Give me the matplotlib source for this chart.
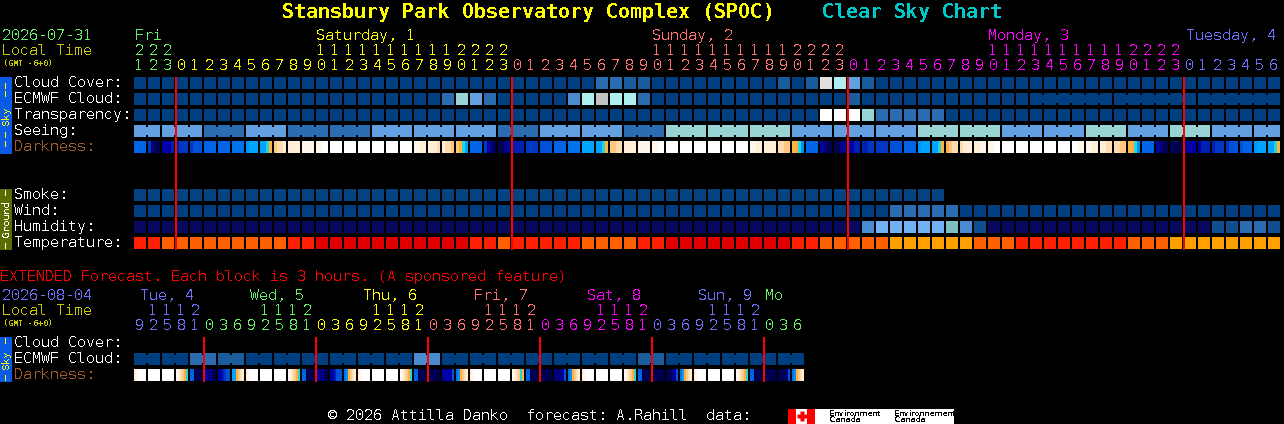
import matplotlib
matplotlib.use("Agg")
import matplotlib.pyplot as plt
from matplotlib.patches import Rectangle

plt.rcParams['font.family'] = ['DejaVu Sans Mono']
plt.rcParams['text.antialiased'] = False
plt.rcParams['text.hinting'] = 'native'
plt.rcParams['text.hinting_factor'] = 1

# colours
GREEN = '#66ee66'
YELLOW = '#ffff00'
PINK = '#ff7070'
MAGENTA = '#ff00ff'
BLUE = '#7070ff'
OLIVE = '#c8c800'
BROWN = '#a05a28'
RED = '#ff0000'
CLOUD_COLORS = ['#003f7f', '#1a5c9c', '#2b6cb0', '#4a8ad0', '#63a0e2', '#71b2f4',
                '#99d4d4', '#aeeeee', '#c2c2c2', '#e0e0e0', '#ffffff']
SMOKE_COLORS = ['#044282']
HUMID_COLORS = ['#08085e', '#0f4f90', '#2b6cb0', '#4a8ad0', '#71b2f4', '#80bfc0']
TEMP_COLORS = ['#e00000', '#ff2000', '#ff6000', '#ffa000']
DARK_COLORS = dict(zip('0123456789ABCDEFG',
                       ['#000050', '#000080', '#0000a8', '#0020b4', '#0038c4', '#0050d8',
                        '#0064e4', '#0074ec', '#0090f8', '#00a4ff', '#20d8d8', '#ffb040',
                        '#ffc880', '#ffdcb0', '#ffeed8', '#fff6ec', '#ffffff']))

# hourly forecast
hours = [21, 22, 23] + list(range(24)) * 3 + list(range(7))
hour_colors = [GREEN] * 3 + [YELLOW] * 24 + [PINK] * 24 + [MAGENTA] * 24 + [BLUE] * 7
midnights = [3, 27, 51, 75]

cloud_cover = [0] * 33 + [2, 2, 1, 1] + [0] * 9 + [1, 0, 1, 9, 7, 4, 1] + [0] * 29
ecmwf_cloud = [0] * 22 + [2, 6, 4, 2] + [0] * 5 + [3, 7, 8, 7, 7, 2] + [0] * 14 + [1] + [0] * 30
transparency = [0] * 49 + [10, 10, 10, 6] + [2] * 5 + [0] * 24
seeing = [4, 4, 4, 4, 4, 2, 2, 2, 4, 4, 4, 2, 2, 2, 2, 2, 2, 4, 4, 4, 4, 4, 4, 4, 4, 4, 2, 2, 2, 4, 4, 4,
          4, 4, 4, 2, 2, 2, 6, 6, 6, 6, 6, 6, 6, 6, 6, 4, 4, 4, 4, 4, 4, 4, 4, 4, 6, 6, 6, 6, 6, 6,
          4, 4, 4, 4, 4, 4, 6, 6, 6, 4, 4, 4, 6, 6, 6, 4, 4, 4, 4, 4]
darkness = ['6666', '4100', '2223', '3444', '4555', '6666', '6666', '7777', '8999', '99AB', 'CDDE',
            'EEEE', 'FFFF', 'FFGG', 'GGGG', 'GGGG', 'GGGG', 'GGGG', 'GGGG', 'GGGG', 'FFEE',
            'EEED', 'EDDC', 'CBA9', '6666', '4210', '0012', '3333', '4444', '5555', '6666', '7777',
            '9999', '99AB', 'CCDD', 'EEEE', 'FFFF', 'FFGG', 'GGGG', 'GGGG', 'GGGG', 'GGGG', 'GGGG',
            'GGGG', 'FFEE', 'EEEE', 'DDCC', 'BBA8', '6666', '2100', '0012', '2233', '3344', '4444',
            '5555', '6666', '8999', '99AB', 'BCDD', 'DEEE', 'EEFF', 'FFGG', 'GGGG', 'GGGG', 'GGGG',
            'GGGG', 'GGGG', 'GGFF', 'FFEE', 'EEDD', 'DDCC', 'BBA8', '6666', '2100', '0000', '1222',
            '2333', '3444', '4555', '5666', '8999', '99AB']
smoke = [0] * 58
wind = [0] * 54 + [2] * 5 + [0] * 23
humidity = [0] * 52 + [3, 4, 4, 4, 4, 4, 5, 3, 1] + [0] * 16 + [1, 1, 2, 2, 1]
temperature = [1, 1] + [2] * 9 + [1, 1] + [0] * 11 + [1, 1, 2] + [1] * 5 + [2] * 4 + [1, 1] + [0] * 9 + \
    [1, 1] + [2] * 5 + [3] * 6 + [2] * 3 + [1] * 8 + [2] * 3 + [3] * 8

# 3 hourly extended forecast
ext_hours = [9, 12, 15, 18, 21] + [0, 3, 6, 9, 12, 15, 18, 21] * 5 + [0, 3, 6]
ext_hour_colors = [BLUE] * 5 + [GREEN] * 8 + [YELLOW] * 8 + [PINK] * 8 + [MAGENTA] * 8 + [BLUE] * 8 + [GREEN] * 3
ext_midnights = [5, 13, 21, 29, 37, 45]
ext_ecmwf = [0] * 4 + [2, 2, 1, 1] + [0] * 12 + [3, 3] + [0] * 14 + [1, 1] + [0] * 10
ext_darkness = ['EFGGGG', 'GGGGGG', 'GGGGGG', 'FEDCBA', '660000',
                '221100', '223455', '99BCDE', 'EFGGGG', 'GGGGGG', 'GGGGGG', 'FEDCBA', '660000',
                '221100', '223555', '78BCDE', 'EFGGGG', 'GGGGGG', 'GGGGGG', 'FEDCBA', '660000',
                '000000', '222225', '78BCDE', 'EFGGGG', 'GGGGGG', 'GGGGGG', 'FEDCAB', '660000',
                '000000', '111125', '78BCDE', 'EFGGGG', 'GGGGGG', 'GGGGGG', 'FEDCBA', '660000',
                '000000', '000125', '79BCDE', 'EFGGGG', 'GGGGGG', 'GGGGGG', 'FEDCBA', '660000',
                '000000', '000015', '78BCDE']

X0 = 134
STEP = 14
CELL = 12

fig = plt.figure(figsize=(12.84, 4.24), dpi=100, facecolor='black')
ax = fig.add_axes([0, 0, 1, 1])
ax.set_xlim(0, 1284)
ax.set_ylim(424, 0)
ax.axis('off')


def box(x, y, w, h, color, z=2):
    ax.add_patch(Rectangle((x, y), w, h, facecolor=color, edgecolor='none', antialiased=False, zorder=z))


def label(x, y, s, color='white', size=10.8, **kw):
    kw.setdefault('ha', 'left')
    ax.text(x, y + 1, s, color=color, fontsize=size, va='center', **kw)


def row(y, values, colors, joined=None):
    # joined(i) says cell i runs on into cell i+1, the notch between blocks
    for i, v in enumerate(values):
        x = X0 + i * STEP
        box(x, y, CELL, CELL, colors[v])
        if joined and i + 1 < len(values) and joined(i):
            box(x + CELL, y + 2, STEP - CELL, CELL - 4, colors[v])


def dark_row(y, values):
    for i, s in enumerate(values):
        w = CELL / len(s)
        for k, c in enumerate(s):
            box(X0 + i * STEP + k * w, y, w + 0.01, CELL, DARK_COLORS[c])


def hour_labels(y, hrs, cols):
    for i, (h, c) in enumerate(zip(hrs, cols)):
        x = X0 + i * STEP + 5
        if h >= 10:
            label(x, y, str(h // 10), c, ha='center')
        label(x, y + 15, str(h % 10), c, ha='center')


def strip(y, h, color, text, text_color, text_y, dashes):
    box(0, y, 12, h, color)
    label(6, text_y, text, text_color, size=7.2, rotation=90, ha='center')
    for d in dashes:
        box(5, d, 1, 6, text_color, z=3)


# title
label(282, 11, 'Stansbury Park Observatory Complex (SPOC)', YELLOW, size=14.4, fontweight='bold')
label(822, 11, 'Clear Sky Chart', '#00c8c8', size=14.4, fontweight='bold')

# top header
label(2, 35, '2026-07-31', GREEN)
label(2, 50, 'Local Time', OLIVE)
label(3, 62, '(GMT -6+0)', OLIVE, size=5.8, fontweight='bold')
for x, s, c in [(135, 'Fri', GREEN), (316, 'Saturday, 1', YELLOW), (652, 'Sunday, 2', PINK),
                (988, 'Monday, 3', MAGENTA), (1186, 'Tuesday, 4', BLUE)]:
    label(x, 35, s, c)
hour_labels(50, hours, hour_colors)

# sky rows
strip(77, 77, '#0a5ae6', 'Sky', YELLOW, 115, [83, 91, 132, 141])
for y, s, c in [(82, 'Cloud Cover:', 'white'), (98, 'ECMWF Cloud:', 'white'), (114, 'Transparency:', 'white'),
                (130, 'Seeing:', 'white'), (146, 'Darkness:', BROWN)]:
    label(14, y, s, c)
row(77, cloud_cover, CLOUD_COLORS)
row(93, ecmwf_cloud, CLOUD_COLORS, lambda i: i >= 64 and (i - 64) % 6 != 5)
row(109, transparency, CLOUD_COLORS)
row(125, seeing, CLOUD_COLORS, lambda i: (i - 2) % 3 != 2)
dark_row(141, darkness)

# ground rows
strip(189, 61, '#5a6e00', 'Ground', 'white', 218, [190, 243])
for y, s in [(194, 'Smoke:'), (210, 'Wind:'), (226, 'Humidity:'), (242, 'Temperature:')]:
    label(14, y, s)
row(189, smoke, SMOKE_COLORS)
row(205, wind, CLOUD_COLORS)
row(221, humidity, HUMID_COLORS)
row(237, temperature, TEMP_COLORS)

for i in midnights:
    box(X0 + i * STEP - 1, 77, 2, 173, RED, z=3)

# extended part
label(0, 276, 'EXTENDED Forecast. Each block is 3 hours. (A sponsored feature)', RED)
label(2, 295, '2026-08-04', BLUE)
label(2, 310, 'Local Time', OLIVE)
label(3, 322, '(GMT -6+0)', OLIVE, size=5.8, fontweight='bold')
for x, s, c in [(140, 'Tue, 4', BLUE), (250, 'Wed, 5', GREEN), (363, 'Thu, 6', YELLOW), (474, 'Fri, 7', PINK),
                (587, 'Sat, 8', MAGENTA), (698, 'Sun, 9', BLUE), (765, 'Mo', GREEN)]:
    label(x, 295, s, c)
hour_labels(310, ext_hours, ext_hour_colors)

strip(337, 45, '#0a5ae6', 'Sky', YELLOW, 359, [338, 375])
for y, s, c in [(342, 'Cloud Cover:', 'white'), (358, 'ECMWF Cloud:', 'white'), (374, 'Darkness:', BROWN)]:
    label(14, y, s, c)
row(353, ext_ecmwf, CLOUD_COLORS, lambda i: i % 2 == 0)
dark_row(369, ext_darkness)
for i in ext_midnights:
    box(X0 + i * STEP - 1, 337, 2, 45, RED, z=3)

# footer and the logo
label(328, 415, '\u00a9 2026 Attilla Danko  forecast: A.Rahill  data:')
box(815, 409, 139, 15, 'white')
box(788, 409, 27, 15, 'white')
box(788, 409, 8, 15, RED)
box(807, 409, 8, 15, RED)
ax.plot([801.5], [416], marker='P', ms=7, color=RED, mec='none', zorder=3, antialiased=False)
for x, s1, s2 in [(829, 'Environment', 'Canada'), (894, 'Environnement', 'Canada')]:
    ax.text(x, 413, s1, color='black', fontsize=5.6, family='DejaVu Sans', va='center', zorder=3)
    ax.text(x, 420, s2, color='black', fontsize=5.6, family='DejaVu Sans', va='center', zorder=3)

fig.savefig('out.png', dpi=100, facecolor='black')
